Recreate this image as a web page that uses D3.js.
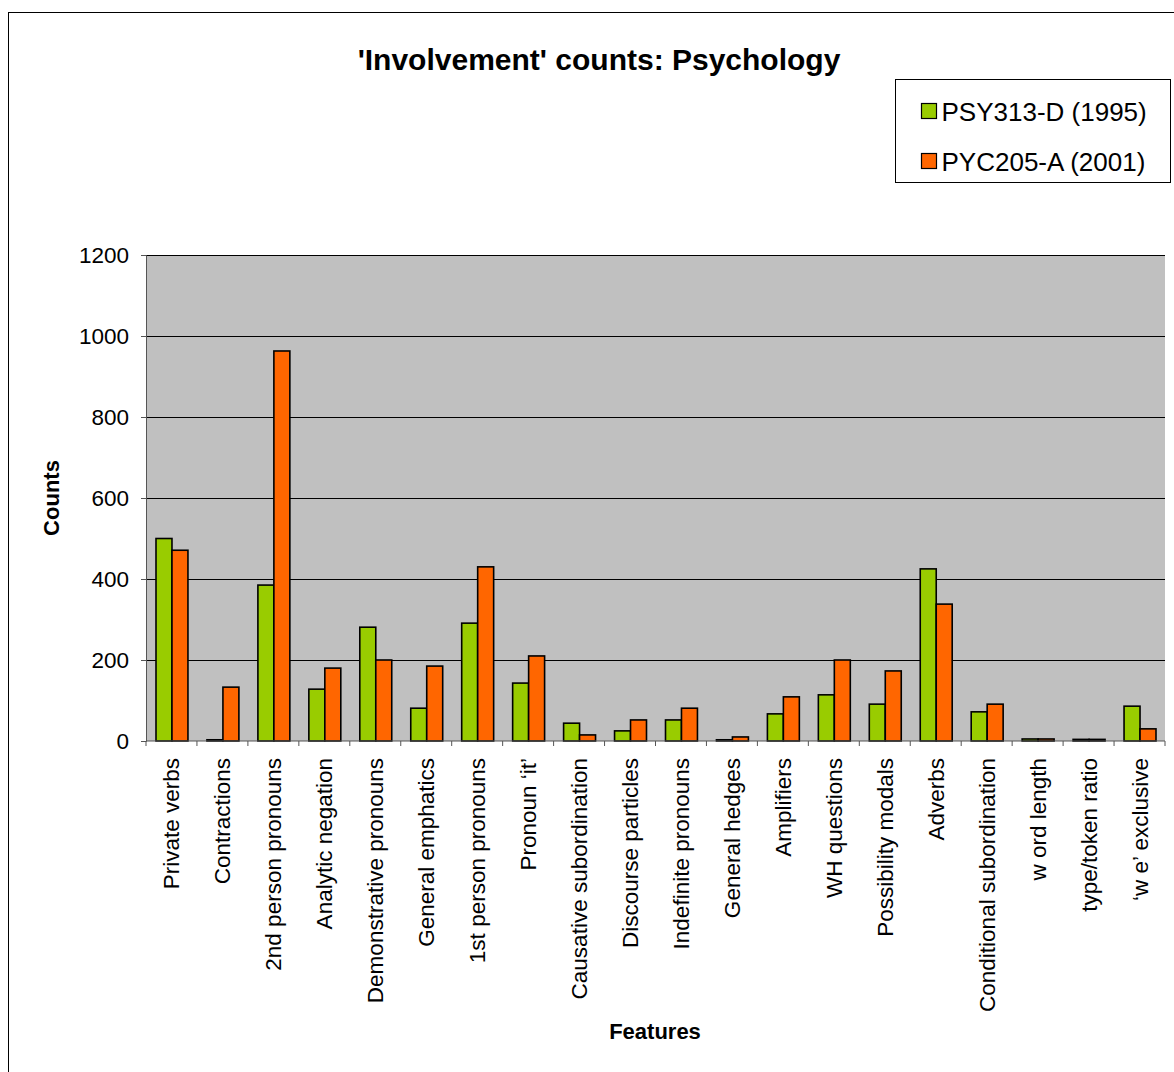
<!DOCTYPE html>
<html>
<head>
<meta charset="utf-8">
<script src="https://cdn.jsdelivr.net/npm/d3@7"></script>
<style>
  body { margin: 0; background: #fff; }
  text { font-family: "Liberation Sans", Arial, sans-serif; }
</style>
</head>
<body>
<div id="chart"></div>
<script>
// categories and series
var features = ["Private verbs", "Contractions", "2nd person pronouns", "Analytic negation",
  "Demonstrative pronouns", "General emphatics", "1st person pronouns", "Pronoun \u2018it\u2019",
  "Causative subordination", "Discourse particles", "Indefinite pronouns", "General hedges",
  "Amplifiers", "WH questions", "Possibility modals", "Adverbs", "Conditional subordination",
  "w ord length", "type/token ratio", "\u2018w e\u2019 exclusive"];
var psy313 = [500, 3, 385, 128, 281, 81, 291, 143, 44, 25, 52, 3, 67, 114, 91, 425, 72, 5, 4, 86];
var pyc205 = [471, 133, 963, 180, 200, 185, 430, 210, 15, 52, 81, 10, 109, 200, 173, 338, 91, 5, 4, 30];
var seriesNames = ["PSY313-D (1995)", "PYC205-A (2001)"];
var colors = ["#99cc00", "#ff6600"];
var yTicks = [0, 200, 400, 600, 800, 1000, 1200];

var W = 1174, H = 1072;
var margin = {top: 255, right: 9, bottom: 331, left: 146},
    width = W - margin.left - margin.right,
    height = H - margin.top - margin.bottom;

var svg = d3.select("#chart").append("svg")
    .attr("width", W)
    .attr("height", H);

// outer chart border
svg.append("rect")
    .attr("x", 8.5).attr("y", 12.5)
    .attr("width", W).attr("height", H)
    .attr("fill", "#fff").attr("stroke", "#000").attr("stroke-width", 1);

var g = svg.append("g")
    .attr("transform", "translate(" + margin.left + "," + margin.top + ")");

var x = d3.scaleBand().domain(features).range([0, width]);
var xs = d3.scaleBand().domain([0, 1]).range([10, x.bandwidth() - 9]);
var y = d3.scaleLinear().domain([0, 1200]).range([height, 0]);

g.append("rect")
    .attr("width", width).attr("height", height)
    .attr("fill", "#c0c0c0");

g.selectAll(".grid").data(yTicks.slice(1))
  .enter().append("line")
    .attr("x1", 0).attr("x2", width)
    .attr("y1", function(d) { return Math.round(y(d)) + 0.5; })
    .attr("y2", function(d) { return Math.round(y(d)) + 0.5; })
    .attr("stroke", "#000").attr("stroke-width", 1);

[psy313, pyc205].forEach(function(vals, s) {
  g.selectAll(".bar" + s).data(vals)
    .enter().append("rect")
      .attr("x", function(d, i) { return x(features[i]) + xs(s); })
      .attr("y", function(d) { return y(d); })
      .attr("width", xs.bandwidth())
      .attr("height", function(d) { return height - y(d); })
      .attr("fill", colors[s])
      .attr("stroke", "#000").attr("stroke-width", 1.6);
});

// y axis
var yAxis = g.append("g")
    .call(d3.axisLeft(y).tickValues(yTicks).tickSize(5).tickPadding(12).tickFormat(d3.format("d")));
yAxis.selectAll("text").style("font-size", "22.5px").attr("fill", "#000");
yAxis.selectAll("line, path").attr("stroke", "#555");

// x axis with ticks at category boundaries
var xAxis = g.append("g").attr("transform", "translate(0," + height + ")");
xAxis.append("line").attr("x1", 0).attr("x2", width).attr("stroke", "#555");
xAxis.selectAll(".tk").data(d3.range(features.length + 1))
  .enter().append("line")
    .attr("x1", function(i) { return i * x.step(); })
    .attr("x2", function(i) { return i * x.step(); })
    .attr("y1", 0).attr("y2", 5)
    .attr("stroke", "#555");
xAxis.selectAll(".lbl").data(features)
  .enter().append("text")
    .attr("transform", function(d) {
      return "translate(" + (x(d) + x.bandwidth() / 2 + 8) + ",17) rotate(-90)";
    })
    .attr("text-anchor", "end")
    .style("font-size", "22.5px")
    .text(function(d) { return d; });

// titles
svg.append("text")
    .attr("x", 599).attr("y", 70)
    .attr("text-anchor", "middle")
    .style("font-size", "30px").style("font-weight", "bold")
    .text("'Involvement' counts: Psychology");

svg.append("text")
    .attr("transform", "translate(59,498) rotate(-90)")
    .attr("text-anchor", "middle")
    .style("font-size", "22px").style("font-weight", "bold")
    .text("Counts");

svg.append("text")
    .attr("x", 655).attr("y", 1039)
    .attr("text-anchor", "middle")
    .style("font-size", "22px").style("font-weight", "bold")
    .text("Features");

// legend
var legend = svg.append("g").attr("transform", "translate(895.5,79.5)");
legend.append("rect")
    .attr("width", 275).attr("height", 103)
    .attr("fill", "#fff").attr("stroke", "#000");
seriesNames.forEach(function(name, i) {
  var row = legend.append("g").attr("transform", "translate(0," + (24 + i * 50) + ")");
  row.append("rect")
      .attr("x", 26).attr("y", 0)
      .attr("width", 15).attr("height", 15)
      .attr("fill", colors[i]).attr("stroke", "#000").attr("stroke-width", 1.2);
  row.append("text")
      .attr("x", 46).attr("y", 17)
      .style("font-size", "26px")
      .text(name);
});
</script>
</body>
</html>
